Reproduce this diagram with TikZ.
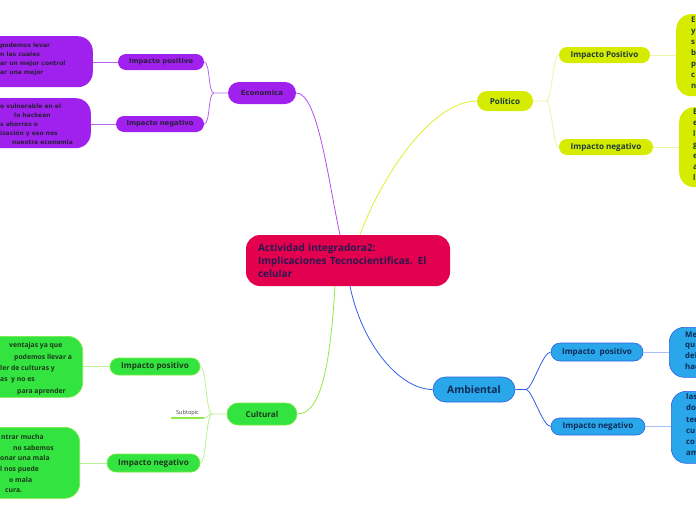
\documentclass[tikz,border=0pt]{standalone}
\usepackage{fontspec}
\setmainfont{Open Sans}
\newfontfamily\ecofont{DejaVu Sans}
\usepackage{xcolor}
\usepackage{tikz}
\usetikzlibrary{positioning,calc}
\definecolor{cred}{HTML}{E3004E}
\definecolor{crootxt}{HTML}{2A1850}
\definecolor{cpurple}{HTML}{A021EE}
\definecolor{cpurpleln}{HTML}{B866F2}
\definecolor{cecotxt}{HTML}{2A1E3A}
\definecolor{cyellow}{HTML}{D5EC00}
\definecolor{cyellowln}{HTML}{EEF4A0}
\definecolor{cyellowmain}{HTML}{E2EC30}
\definecolor{cpoltxt}{HTML}{1E3B3B}
\definecolor{cblue}{HTML}{2AA7EA}
\definecolor{cblueln}{HTML}{2F5FE6}
\definecolor{cbluelt}{HTML}{A9C0F7}
\definecolor{cambtxt}{HTML}{0E2A55}
\definecolor{cgreen}{HTML}{33E33F}
\definecolor{cgreenbd}{HTML}{7BEA3E}
\definecolor{cgreenln}{HTML}{B9F291}
\definecolor{cgreenmain}{HTML}{8FEA45}
\definecolor{cculttxt}{HTML}{1D3A1D}
\tikzset{
  root/.style    = {fill=cred, rounded corners=14pt, minimum width=204pt, minimum height=51pt,
                    text width=180pt, align=left, inner sep=0pt, text=crootxt,
                    font=\bfseries\fontsize{10}{13}\selectfont},
  ecotopic/.style = {fill=cpurple, inner sep=0pt, text=cecotxt,
                    font=\ecofont\bfseries\fontsize{6.8}{7}\selectfont},
  poltopic/.style = {fill=cyellow, inner sep=0pt, text=cpoltxt,
                    font=\bfseries\fontsize{8.1}{9}\selectfont},
  ambtopic/.style = {fill=cblue, draw=cblueln, line width=0.6pt, inner sep=0pt, text=cambtxt,
                    font=\bfseries\fontsize{8.1}{9}\selectfont},
  culttopic/.style= {fill=cgreen, draw=cgreenbd, line width=0.6pt, inner sep=0pt, text=cculttxt,
                    font=\bfseries\fontsize{8.1}{9}\selectfont},
  txtbox/.style  = {rounded corners=15pt, minimum width=110pt},
  boxtxt/.style  = {inner sep=0pt, text width=100pt, align=left, anchor=north west},
  ecoline/.style = {inner sep=0pt, anchor=base west, text=cecotxt,
                    font=\ecofont\bfseries\fontsize{6}{9}\selectfont},
  cultline/.style= {inner sep=0pt, anchor=base west, text=cculttxt,
                    font=\bfseries\fontsize{6.8}{9}\selectfont},
  ecoln/.style   = {draw=cpurpleln, line width=0.8pt},
  polln/.style   = {draw=cyellowln, line width=0.8pt},
  ambln/.style   = {draw=cblueln, line width=0.8pt},
  cultln/.style  = {draw=cgreenln, line width=0.8pt},
  subtopic/.style= {inner xsep=0pt, inner ysep=2pt, minimum width=33pt, text=black!75,
                    font=\fontsize{5.6}{6}\selectfont},
}
\begin{document}
\begin{tikzpicture}[x=1pt,y=-1pt]
  \useasboundingbox (0,0) rectangle (696,520);
  \clip (0,0) rectangle (696,520);

  % centre
  \node[root] (root) at (348,260.5) {Actividad integradora2:\\Implicaciones Tecnocientificas. El\\celular};

  % main topics
  \node[ecotopic, minimum width=68pt, minimum height=22pt, rounded corners=11pt,
        font=\ecofont\bfseries\fontsize{7}{8}\selectfont] (eco) at (262,93) {Economica};
  \node[poltopic, minimum width=56pt, minimum height=20pt, rounded corners=10pt] (pol) at (505,101) {Político};
  \node[ambtopic, minimum width=82pt, minimum height=25pt, rounded corners=12.5pt,
        font=\bfseries\fontsize{10.3}{11}\selectfont] (amb) at (474,389.5) {Ambiental};
  \node[culttopic, minimum width=70pt, minimum height=22pt, rounded corners=11pt] (cult) at (262,414) {Cultural};

  \draw[ecoln, draw=cpurple!80] (eco.east) .. controls (318,93) and (328,180) .. ([xshift=-8pt]root.north);
  \draw[polln, draw=cyellowmain] ([xshift=12pt]root.north) .. controls (380,180) and (430,101) .. (pol.west);
  \draw[ambln] ([xshift=2pt]root.south) .. controls (362,345) and (400,389.5) .. (amb.west);
  \draw[cultln, draw=cgreenmain] ([xshift=-13pt]root.south) .. controls (330,370) and (320,414) .. (cult.east);

  % Economica
  \node[ecotopic, minimum width=86pt, minimum height=16pt, rounded corners=8pt] (ecopos) at (161,62) {Impacto positivo};
  \node[ecotopic, minimum width=88pt, minimum height=16pt, rounded corners=8pt] (econeg) at (160,124) {Impacto negativo};
  \coordinate (ecoj) at (214,93);
  \draw[ecoln] (eco.west) -- (ecoj) .. controls +(-6,0) and +(6,0) .. (ecopos.east);
  \draw[ecoln] (ecoj) .. controls +(-6,0) and +(6,0) .. (econeg.east);
  \node[txtbox, fill=cpurple, minimum height=51pt, anchor=north east] (ecoposbox) at (93,36) {};
  \node[txtbox, fill=cpurple, minimum height=50pt, anchor=north east] (econegbox) at (91,98) {};
  \foreach \lx/\ly/\lt [count=\i] in {0/47/podemos levar, 0/56/n las cuales,
      0/65/ar un mejor control, 0/74/ar una mejor}
    \node[ecoline] (ecoposl\i) at (\lx,\ly) {\lt};
  \foreach \lx/\ly/\lt [count=\i] in {0/108/o vulnerable en el, 14/117/lo hackean,
      0/126/s ahorros o, 0/135/ización y eso nos, 12/144/nuestra economia}
    \node[ecoline] (econegl\i) at (\lx,\ly) {\lt};
  \draw[ecoln] (ecopos.west) -- (ecopos.west -| ecoposbox.east);
  \draw[ecoln] (econeg.west) -- (econeg.west -| econegbox.east);

  % Politico
  \node[poltopic, minimum width=91pt, minimum height=16pt, rounded corners=8pt] (polpos) at (604.5,55) {Impacto Positivo};
  \node[poltopic, minimum width=94pt, minimum height=16pt, rounded corners=8pt] (polneg) at (606,147) {Impacto negativo};
  \coordinate (polj) at (546,101);
  \draw[polln] (pol.east) -- (polj) .. controls +(6,0) and +(-6,0) .. (polpos.west);
  \draw[polln] (polj) .. controls +(6,0) and +(-6,0) .. (polneg.west);
  \node[txtbox, fill=cyellow, minimum height=82pt, anchor=north west] (polposbox) at (676,14) {};
  \node[txtbox, fill=cyellow, minimum height=80pt, anchor=north west] (polnegbox) at (679,107) {};
  \node[boxtxt, text=cpoltxt, font=\bfseries\fontsize{7.8}{11}\selectfont] (polpostxt) at (691,16.5)
    {El\\y\\s\\b\\p\\c\\n};
  \node[boxtxt, text=cpoltxt, font=\bfseries\fontsize{7.8}{11}\selectfont] (polnegtxt) at (693,108.5)
    {E\\e\\l\\g\\e\\a\\l};
  \draw[polln] (polpos.east) -- (polpos.east -| polposbox.west);
  \draw[polln] (polneg.east) -- (polneg.east -| polnegbox.west);

  % Ambiental
  \node[ambtopic, minimum width=92pt, minimum height=18pt, rounded corners=9pt] (ambpos) at (597,352) {Impacto\ \ positivo};
  \node[ambtopic, minimum width=94pt, minimum height=17pt, rounded corners=8.5pt] (ambneg) at (598,426.5) {Impacto negativo};
  \coordinate (ambj) at (526,389.5);
  \draw[ambln] (amb.east) -- (ambj) .. controls +(6,0) and +(-8,0) .. (ambpos.west);
  \draw[ambln] (ambj) .. controls +(6,0) and +(-8,0) .. (ambneg.west);
  \node[txtbox, fill=cblue, draw=cblueln, line width=0.6pt, minimum height=50pt, anchor=north west] (ambposbox) at (669,327) {};
  \node[txtbox, fill=cblue, draw=cblueln, line width=0.6pt, minimum height=72pt, anchor=north west] (ambnegbox) at (671,391) {};
  \node[boxtxt, text=cambtxt, font=\bfseries\fontsize{7.8}{10.7}\selectfont] (ambpostxt) at (685,331.5)
    {Me\\qu\\del\\hac};
  \node[boxtxt, text=cambtxt, font=\bfseries\fontsize{7.8}{11.2}\selectfont] (ambnegtxt) at (686,393.5)
    {las\\do\\ter\\cu\\co\\am};
  \draw[ambln, draw=cbluelt] (ambpos.east) -- (ambpos.east -| ambposbox.west);
  \draw[ambln, draw=cbluelt] (ambneg.east) -- (ambneg.east -| ambnegbox.west);

  % Cultural
  \node[culttopic, minimum width=90pt, minimum height=17pt, rounded corners=8.5pt] (cultpos) at (155,366.5) {Impacto positivo};
  \node[culttopic, minimum width=93pt, minimum height=18pt, rounded corners=9pt] (cultneg) at (153.5,463) {Impacto negativo};
  \node[subtopic, anchor=south] (sub) at (187.5,418) {Subtopic};
  \coordinate (cultj) at (212,414);
  \draw[cultln] (cult.west) -- (cultj) .. controls +(-6,0) and +(6,0) .. (cultpos.east);
  \draw[cultln] (cultj) .. controls +(-6,0) and +(6,0) .. (cultneg.east);
  \draw[cultln] (cultj) .. controls +(-4,0) and +(3,0) .. (sub.south east);
  \draw[cultln, draw=cgreenmain, line width=1.4pt] (sub.south east) -- (sub.south west);
  \node[txtbox, fill=cgreen, draw=cgreenbd, line width=0.6pt, minimum height=61pt, anchor=north east] (cultposbox) at (83,336) {};
  \node[txtbox, fill=cgreen, draw=cgreenbd, line width=0.6pt, minimum height=71pt, anchor=north east] (cultnegbox) at (80,427) {};
  \foreach \lx/\ly/\lt [count=\i] in {9/347.5/ventajas ya que, 14/359/podemos llevar a,
      0/370.5/ler de culturas y, 0/381.5/as\ \ y no es, 17/393/para aprender}
    \node[cultline] (cultposl\i) at (\lx,\ly) {\lt};
  \foreach \lx/\ly/\lt [count=\i] in {1/439.5/ntrar mucha, 13/450/no sabemos,
      0/460.5/onar una mala, 0/471/l nos puede, 9/482/o mala, 5/492.5/cura.}
    \node[cultline] (cultnegl\i) at (\lx,\ly) {\lt};
  \draw[cultln] (cultpos.west) -- (cultpos.west -| cultposbox.east);
  \draw[cultln] (cultneg.west) -- (cultneg.west -| cultnegbox.east);
\end{tikzpicture}
\end{document}
